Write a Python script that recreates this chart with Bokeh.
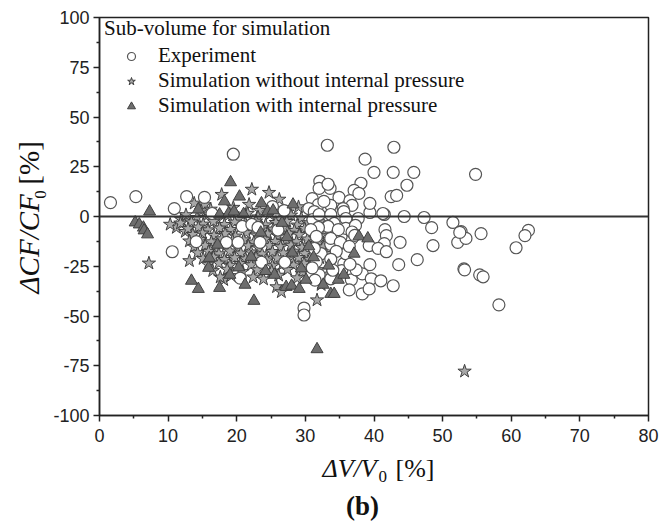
import math
from bokeh.plotting import figure
from bokeh.layouts import row, column
from bokeh.models import (Legend, LegendItem, Span, Label, FixedTicker)
from bokeh.embed import file_html
from bokeh.resources import INLINE

# ---------------- data ----------------
exp_x = [1.6, 5.3, 10.6, 10.9, 12.7, 15.3, 16.4, 19.5, 25.2, 26.9,
         14.1, 18.5, 20.2, 20.8, 22.2, 23.1, 26.0, 23.6, 27.0, 20.5, 23.4,
         33.2, 42.9, 38.7, 40.0, 42.8, 45.8, 54.8,
         32.1, 33.6, 38.1, 37.1, 44.8, 32.0, 33.3,
         42.5, 43.3, 31.0, 34.9, 36.5, 33.7, 31.9, 32.7, 36.8, 35.5, 30.5,
         39.4, 35.6, 41.5, 44.4, 47.3, 51.5, 31.3, 33.5, 37.7, 31.1, 32.0, 33.7, 35.9, 34.2,
         48.4, 41.6, 52.7, 52.2, 53.4, 41.8, 41.5, 43.8, 48.6, 39.3, 40.6, 41.8,
         46.3, 43.6, 39.4, 53.1, 55.4, 55.9, 38.3, 39.6, 41.0, 42.8, 36.7, 36.4, 38.3, 39.3,
         29.8, 29.8, 37.4, 35.6, 35.9, 34.8, 35.9, 36.8, 35.2, 35.9, 33.3, 31.9, 33.7, 32.3,
         31.3, 31.6, 32.0, 33.7, 31.0, 31.4, 30.8, 34.8, 31.6, 33.7,
         52.5, 55.6, 62.5, 62.0, 60.7, 53.2, 58.2,
         37.3, 36.8, 35.1, 36.4, 34.5, 33.7, 35.3, 37.8, 39.4, 41.3, 37.2, 36.5, 34.0]
exp_y = [7.0, 10.0, -17.7, 4.0, 10.0, 9.6, 1.5, 31.3, 5.0, 3.0,
         -12.6, -13.0, -13.0, -5.0, -4.0, -5.5, -6.8, -23.0, -23.0, -31.0, -13.0,
         35.8, 34.8, 28.8, 22.2, 22.2, 22.2, 21.2,
         17.7, 14.1, 16.7, 13.1, 15.7, 14.1, 16.2,
         10.0, 10.6, 9.0, 9.6, 8.0, 5.6, 6.0, 7.6, 5.6, 4.0, 4.0,
         2.0, 2.5, 1.0, 0.0, -0.5, -3.0, 2.5, 0.0, -1.0, -1.5, 1.0, 1.0, -1.0, -3.5,
         -5.6, -6.6, -7.6, -13.0, -11.0, -9.6, -13.6, -13.0, -14.6, -14.6, -16.0, -17.7,
         -21.7, -24.2, -24.2, -26.3, -29.3, -30.3, -28.8, -31.3, -32.3, -34.8, -31.8, -36.9, -38.9, -36.4,
         -46.0, -49.5, -26.8, -23.7, -18.7, -14.0, -12.6, -11.0, -10.0, -6.0, -5.0, -5.5, -14.0, -18.7,
         -16.0, -22.7, -29.3, -31.3, -25.8, -32.0, -6.6, -6.6, -10.0, -11.0,
         -8.0, -8.6, -7.0, -9.6, -15.7, -26.8, -44.4,
         -4.5, -7.8, -13.0, -15.0, -17.5, -21.5, -27.2, 11.6, 6.6, 1.5, -9.5, -24.0, -27.0]

star_x = [7.2, 13.1, 17.8, 22.2, 24.7, 26.2, 21.8, 13.8, 15.3, 11.2, 12.5, 11.9, 18.1, 17.6, 23.9,
          25.8, 26.5, 31.7, 32.3, 53.2, 10.3, 14.8, 16.2, 19.5, 23.3, 27.4, 29.0,
          12.6, 14.2, 15.9, 17.1, 18.7, 20.3, 21.6, 23.1, 24.8, 26.3, 27.9, 29.4, 31.2,
          11.8, 13.4, 15.1, 16.6, 18.2, 19.7, 21.3, 22.8, 24.2, 25.7, 27.3, 28.8, 30.4, 32.1,
          12.9, 14.4, 15.8, 17.5, 19.1, 20.6, 22.2, 23.7, 25.3, 26.8, 28.4, 29.9, 31.5, 33.0,
          13.6, 15.0, 16.7, 18.3, 19.8, 21.4, 22.9, 24.5, 26.0, 27.6, 29.1, 30.7, 32.2,
          13.1, 14.7, 16.3, 17.8, 19.4, 21.0, 22.5, 24.1, 25.6, 27.2, 28.7, 30.3, 31.9, 33.4,
          13.8, 15.4, 16.9, 18.5, 20.1, 21.7, 23.2, 24.8, 26.4, 27.9, 29.5, 31.0, 32.6,
          14.3, 15.9, 17.4, 19.0, 20.6, 22.1, 23.7, 25.2, 26.8, 28.3, 29.9, 31.4, 33.0,
          15.1, 16.6, 18.2, 19.7, 21.3, 22.8, 24.4, 25.9, 27.5, 29.0, 30.6, 32.1,
          15.8, 17.4, 19.0, 20.5, 22.1, 23.6, 25.2, 26.7, 28.3, 29.8, 31.4,
          16.5, 18.6, 20.8, 23.0, 25.1, 27.4, 29.6, 31.8,
          19.2, 22.4, 26.1, 28.8, 33.2]
star_y = [-23.5, -22.3, 11.0, 13.6, 12.0, 8.6, 6.0, 6.6, 5.8, -5.6, -7.6, -1.5, -31.8, -30.5, -31.5,
          -35.4, -37.9, -42.0, -34.3, -77.8, -4.0, 2.8, 3.6, 4.5, 3.0, 2.2, 4.8,
          0.8, -0.6, 1.2, -1.8, 0.4, -0.9, 1.5, -0.3, 1.1, -1.4, 0.6, -0.8, 1.9,
          -3.4, -2.8, -3.9, -2.5, -4.1, -2.9, -3.7, -2.4, -4.3, -3.1, -2.6, -4.4, -3.2, -2.7,
          -6.2, -5.4, -6.8, -5.9, -6.6, -5.2, -6.9, -5.7, -6.4, -5.5, -7.1, -6.1, -5.6, -6.8,
          -9.1, -8.4, -9.6, -8.7, -9.9, -8.2, -9.4, -8.8, -9.7, -8.5, -9.2, -8.6, -9.8,
          -12.4, -11.6, -12.8, -11.3, -12.2, -11.8, -12.9, -11.5, -12.6, -11.9, -12.7, -11.4, -12.3, -11.7,
          -15.2, -14.6, -15.8, -14.4, -15.5, -14.8, -15.9, -14.7, -15.3, -14.5, -15.7, -14.9, -15.4,
          -18.3, -17.6, -18.8, -17.4, -18.5, -17.9, -18.9, -17.7, -18.4, -17.5, -18.6, -17.8, -18.7,
          -21.2, -20.5, -21.7, -20.8, -21.4, -20.6, -21.9, -20.9, -21.5, -20.7, -21.6, -20.8,
          -24.1, -23.5, -24.6, -23.7, -24.4, -23.3, -24.8, -23.9, -24.5, -23.6, -24.2,
          -27.3, -26.6, -27.8, -26.9, -27.5, -26.7, -27.9, -26.8,
          -29.8, -30.5, -29.6, -30.9, -29.4]

tri_x = [7.3, 5.2, 5.8, 6.4, 6.5, 7.0,
         19.1, 18.2, 20.4, 23.6, 14.4, 17.5, 18.8, 19.6, 21.0, 24.5, 28.2, 25.3,
         13.4, 14.4, 17.5, 21.2, 22.5, 15.9, 25.5,
         27.2, 28.0, 29.1, 30.1, 32.6, 33.7, 34.8, 35.6, 31.7,
         37.8, 39.1, 37.1, 34.2, 30.5,
         17.2, 22.1, 27.3, 29.4, 24.2, 20.3, 31.2, 28.1, 26.6, 16.0, 23.5, 33.4, 19.0]
tri_y = [2.5, -3.0, -4.0, -5.6, -7.0, -9.0,
         17.2, 7.6, 10.0, 6.6, 3.5, 1.0, 1.5, 2.5, 1.2, 2.5, 6.0, 3.0,
         -32.3, -36.4, -35.9, -34.3, -42.4, -25.8, -29.3,
         -35.4, -34.8, -36.4, -31.8, -34.3, -38.9, -31.8, -29.3, -66.7,
         -10.0, -11.0, -18.7, -38.9, -15.0,
         -14.2, -20.3, -10.4, -26.1, -27.4, -25.6, -20.5, -18.2, -3.2, -20.8, -8.1, -24.7, -29.3]

x_ticks = [0, 10, 20, 30, 40, 50, 60, 70, 80]
x_minor = [5, 15, 25, 35, 45, 55, 65, 75]
y_ticks = [-100, -75, -50, -25, 0, 25, 50, 75, 100]
y_minor = [-87.5, -62.5, -37.5, -12.5, 12.5, 37.5, 62.5, 87.5]

legend_title = "Sub-volume for simulation"
names = ["Experiment", "Simulation without internal pressure", "Simulation with internal pressure"]
x_title = ["\u0394V/V", "0", "[%]"]
y_title = ["\u0394CF/CF", "0", "[%]"]
caption = "(b)"

# ---------------- layout sizes ----------------
W, H = 660, 525
YL_W = 50            # strip on the left holding the rotated y title
MAIN_H = 450         # main plot height (frame top 17, bottom 415)
XL_H = H - MAIN_H    # strip below holding x title and caption

serif = "Liberation Serif"
INK = "#111111"

# ---------------- main figure ----------------
p = figure(width=W - YL_W, height=MAIN_H, x_range=(0, 80), y_range=(-100, 100),
           output_backend="svg", toolbar_location=None,
           min_border_left=98 - YL_W, min_border_right=12, min_border_top=17,
           min_border_bottom=MAIN_H - 415)
p.grid.visible = False
p.background_fill_color = "white"
p.border_fill_color = "white"
p.outline_line_color = "#222222"
p.outline_line_width = 1.5

for ax in (p.xaxis[0], p.yaxis[0]):
    ax.axis_line_color = "#222222"
    ax.axis_line_width = 1.5
    ax.major_tick_line_color = "#222222"
    ax.major_tick_line_width = 1.5
    ax.minor_tick_line_color = "#222222"
    ax.minor_tick_line_width = 1.5
    ax.major_tick_out = 6
    ax.major_tick_in = 0
    ax.minor_tick_out = 3
    ax.minor_tick_in = 0
    ax.major_label_text_font = "Liberation Sans"
    ax.major_label_text_font_size = "18px"
    ax.major_label_text_color = "#222222"
    ax.axis_label = None
p.xaxis.major_label_standoff = 7
p.yaxis.major_label_standoff = 4

p.xaxis.ticker = FixedTicker(ticks=x_ticks, minor_ticks=x_minor)
p.yaxis.ticker = FixedTicker(ticks=y_ticks, minor_ticks=y_minor)
p.yaxis.major_label_overrides = {t: str(t) for t in y_ticks}

p.add_layout(Span(location=0, dimension="width", line_color="#333333", line_width=2))

r_star = p.scatter(star_x, star_y, marker="star", size=14, fill_color="#a8a8a8",
                   line_color="#404040", line_width=1)
r_exp = p.scatter(exp_x, exp_y, marker="circle", size=12, fill_color="white",
                  line_color="#555555", line_width=1.2)
r_tri = p.scatter(tri_x, tri_y, marker="triangle", size=12, fill_color="#6e6e6e",
                  line_color="#404040", line_width=1)

legend = Legend(items=[LegendItem(label=names[0], renderers=[r_exp]),
                       LegendItem(label=names[1], renderers=[r_star]),
                       LegendItem(label=names[2], renderers=[r_tri])],
                location=(5, 297), title=legend_title,
                title_text_font=serif, title_text_font_size="21px",
                title_text_font_style="normal", title_text_color=INK,
                label_text_font=serif, label_text_font_size="21px",
                label_text_color=INK,
                border_line_color=None, background_fill_alpha=0,
                margin=0, padding=4, spacing=0, title_standoff=2,
                glyph_width=54, glyph_height=20, label_height=25, label_standoff=0)
p.add_layout(legend, "center")


def text_strip(w, h):
    f = figure(width=w, height=h, x_range=(0, w), y_range=(0, h),
               x_axis_type=None, y_axis_type=None, output_backend="svg",
               toolbar_location=None, min_border=0)
    f.outline_line_color = None
    f.background_fill_color = "white"
    f.border_fill_color = "white"
    f.grid.visible = False
    return f


# ---------------- y title strip (canvas x 0..50, y 0..450) ----------------
yl = text_strip(YL_W, MAIN_H)
yl.add_layout(Label(x=28, y=MAIN_H - 312, text=y_title[0], text_font=serif, text_font_size="29px",
                    text_font_style="italic", text_baseline="middle", text_align="left",
                    angle=math.pi / 2, text_color=INK))
yl.add_layout(Label(x=40, y=MAIN_H - 200, text=y_title[1], text_font=serif, text_font_size="17px",
                    text_baseline="middle", text_align="center",
                    angle=math.pi / 2, text_color=INK))
yl.add_layout(Label(x=28, y=MAIN_H - 189, text=y_title[2], text_font=serif, text_font_size="29px",
                    text_baseline="middle", text_align="left",
                    angle=math.pi / 2, text_color=INK))

# ---------------- x title + caption strip (canvas y 450..525) ----------------
xl = text_strip(W, XL_H)
xl.add_layout(Label(x=322, y=XL_H - (468 - MAIN_H), text=x_title[0], text_font=serif,
                    text_font_size="26px", text_font_style="italic",
                    text_baseline="middle", text_align="left", text_color=INK))
xl.add_layout(Label(x=378, y=XL_H - (476 - MAIN_H), text=x_title[1], text_font=serif,
                    text_font_size="17px", text_baseline="middle", text_align="left",
                    text_color=INK))
xl.add_layout(Label(x=395, y=XL_H - (468 - MAIN_H), text=x_title[2], text_font=serif,
                    text_font_size="26px", text_baseline="middle", text_align="left",
                    text_color=INK))
xl.add_layout(Label(x=362, y=XL_H - (505 - MAIN_H), text=caption, text_font=serif,
                    text_font_size="27px", text_font_style="bold",
                    text_baseline="middle", text_align="center", text_color=INK))

layout = column(row(yl, p, spacing=0), xl, spacing=0)
open("out.html", "w").write(file_html(layout, INLINE))
